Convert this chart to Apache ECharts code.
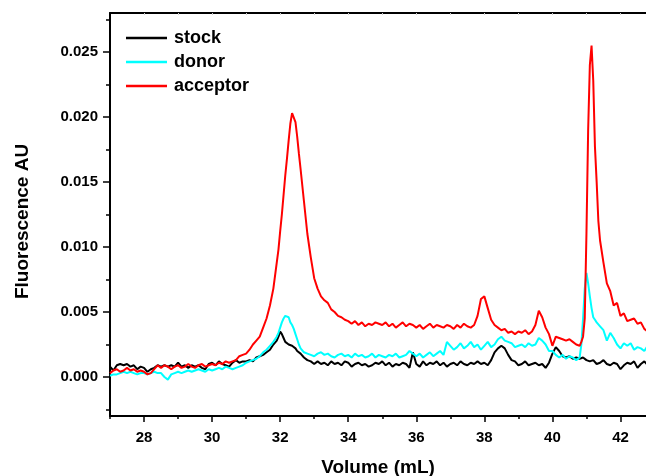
<!DOCTYPE html>
<html>
<head>
<meta charset="utf-8">
<script src="https://cdn.jsdelivr.net/npm/echarts@6/dist/echarts.min.js"></script>
<style>html,body{margin:0;padding:0;background:#fff}#c{width:646px;height:476px}</style>
</head>
<body>
<div id="c"></div>
<script>
// Elution volume (mL)
const volume = [
27.0,27.1,27.2,27.3,27.4,27.5,27.6,27.7,27.8,27.9,
28.0,28.1,28.2,28.3,28.4,28.5,28.6,28.7,28.8,28.9,
29.0,29.1,29.2,29.3,29.4,29.5,29.6,29.7,29.8,29.9,
30.0,30.1,30.2,30.3,30.4,30.5,30.6,30.7,30.8,30.9,
31.0,31.1,31.2,31.3,31.4,31.5,31.6,31.7,31.8,31.9,31.95,
32.0,32.05,32.1,32.15,32.2,32.25,32.3,32.35,32.4,32.45,32.5,32.55,32.6,32.7,32.8,32.9,
33.0,33.1,33.2,33.3,33.4,33.5,33.6,33.7,33.8,33.9,
34.0,34.1,34.2,34.3,34.4,34.5,34.6,34.7,34.8,34.9,
35.0,35.1,35.2,35.3,35.4,35.5,35.6,35.7,35.8,35.9,
36.0,36.1,36.2,36.3,36.4,36.5,36.6,36.7,36.8,36.9,
37.0,37.1,37.2,37.3,37.4,37.5,37.6,37.7,37.8,37.9,
38.0,38.1,38.2,38.3,38.4,38.5,38.6,38.7,38.8,38.9,
39.0,39.1,39.2,39.3,39.4,39.5,39.6,39.7,39.8,39.9,
40.0,40.1,40.2,40.3,40.4,40.5,40.6,40.7,40.8,40.85,40.9,40.95,
41.0,41.05,41.1,41.15,41.2,41.25,41.3,41.35,41.4,41.5,41.6,41.7,41.8,41.9,
42.0,42.1,42.2,42.3,42.4,42.5,42.6,42.7,42.8
];
const stock = [
0.0008,0.0005,0.0009,0.0010,0.0009,0.0010,0.0008,0.0009,0.0006,0.0008,
0.0007,0.0004,0.0006,0.0007,0.0009,0.0008,0.0009,0.0008,0.0009,0.0008,
0.0011,0.0008,0.0009,0.0007,0.0009,0.0008,0.0009,0.0007,0.0006,0.0010,
0.0011,0.0009,0.0012,0.0010,0.0009,0.0008,0.0011,0.0013,0.0011,0.0012,
0.0012,0.0013,0.0012,0.0015,0.0016,0.0017,0.0019,0.0021,0.0025,0.0028,0.0031,
0.0035,0.0033,0.0030,0.0027,0.0026,0.0025,0.0025,0.0024,0.0024,0.0022,0.0020,0.0019,0.0018,0.0015,0.0013,0.0012,
0.0010,0.0012,0.0010,0.0011,0.0009,0.0012,0.0010,0.0011,0.0009,0.0012,
0.0011,0.0008,0.0010,0.0011,0.0009,0.0010,0.0008,0.0009,0.0011,0.0010,
0.0012,0.0009,0.0011,0.0008,0.0010,0.0009,0.0011,0.0010,0.0007,0.0019,
0.0010,0.0008,0.0012,0.0009,0.0011,0.0010,0.0012,0.0009,0.0011,0.0008,
0.0010,0.0011,0.0009,0.0012,0.0010,0.0009,0.0011,0.0010,0.0012,0.0010,
0.0011,0.0009,0.0013,0.0019,0.0022,0.0024,0.0022,0.0017,0.0013,0.0012,
0.0009,0.0010,0.0012,0.0009,0.0010,0.0011,0.0009,0.0010,0.0007,0.0011,
0.0018,0.0023,0.0020,0.0016,0.0015,0.0016,0.0014,0.0015,0.0014,0.0015,0.0015,0.0014,
0.0013,0.0012,0.0012,0.0011,0.0013,0.0012,0.0010,0.0011,0.0011,0.0013,0.0010,0.0009,0.0011,0.0010,
0.0006,0.0009,0.0011,0.0010,0.0012,0.0007,0.0010,0.0012,0.0009
];
const donor = [
0.0001,0.0002,0.0002,0.0003,0.0004,0.0003,0.0004,0.0003,0.0002,0.0003,
0.0003,0.0002,0.0003,0.0004,0.0003,0.0003,0.0000,-0.0002,0.0002,0.0003,
0.0004,0.0003,0.0004,0.0005,0.0004,0.0005,0.0006,0.0005,0.0004,0.0006,
0.0005,0.0006,0.0007,0.0006,0.0008,0.0007,0.0006,0.0007,0.0008,0.0009,
0.0011,0.0012,0.0013,0.0014,0.0016,0.0019,0.0021,0.0024,0.0027,0.0031,0.0034,
0.0038,0.0042,0.0045,0.0047,0.0048,0.0046,0.0042,0.0040,0.0037,0.0033,0.0029,0.0025,0.0022,0.0019,0.0018,0.0017,
0.0016,0.0018,0.0019,0.0017,0.0018,0.0016,0.0015,0.0017,0.0018,0.0016,
0.0017,0.0015,0.0018,0.0016,0.0017,0.0015,0.0016,0.0018,0.0015,0.0017,
0.0016,0.0015,0.0017,0.0016,0.0018,0.0015,0.0016,0.0017,0.0020,0.0018,
0.0016,0.0018,0.0015,0.0017,0.0019,0.0016,0.0018,0.0020,0.0017,0.0027,
0.0024,0.0021,0.0023,0.0026,0.0022,0.0024,0.0027,0.0023,0.0025,0.0021,
0.0024,0.0027,0.0023,0.0025,0.0029,0.0031,0.0028,0.0027,0.0026,0.0023,
0.0024,0.0025,0.0023,0.0026,0.0024,0.0025,0.0030,0.0028,0.0025,0.0020,
0.0020,0.0017,0.0015,0.0017,0.0014,0.0016,0.0015,0.0013,0.0015,0.0025,0.0045,0.0068,
0.0080,0.0072,0.0062,0.0053,0.0046,0.0044,0.0042,0.0041,0.0039,0.0036,0.0028,0.0034,0.0030,0.0025,
0.0022,0.0026,0.0024,0.0026,0.0021,0.0023,0.0022,0.0020,0.0024
];
const acceptor = [
0.0003,0.0005,0.0006,0.0004,0.0005,0.0007,0.0005,0.0006,0.0004,0.0005,
0.0004,0.0002,0.0003,0.0006,0.0009,0.0007,0.0009,0.0008,0.0006,0.0008,
0.0009,0.0007,0.0008,0.0010,0.0008,0.0007,0.0009,0.0010,0.0008,0.0009,
0.0010,0.0009,0.0011,0.0010,0.0012,0.0011,0.0012,0.0013,0.0016,0.0017,
0.0018,0.0021,0.0025,0.0028,0.0031,0.0038,0.0045,0.0055,0.0068,0.0088,0.0098,
0.0112,0.0125,0.0140,0.0155,0.0168,0.0182,0.0195,0.0203,0.0204,0.0196,0.0185,0.0172,0.0160,0.0135,0.0110,0.0092,
0.0076,0.0068,0.0062,0.0059,0.0057,0.0052,0.0050,0.0047,0.0046,0.0044,
0.0043,0.0041,0.0043,0.0040,0.0042,0.0039,0.0041,0.0040,0.0042,0.0041,
0.0040,0.0042,0.0039,0.0041,0.0038,0.0040,0.0042,0.0039,0.0041,0.0040,
0.0038,0.0040,0.0037,0.0039,0.0041,0.0038,0.0040,0.0039,0.0038,0.0040,
0.0039,0.0037,0.0040,0.0038,0.0041,0.0039,0.0038,0.0040,0.0047,0.0060,
0.0062,0.0053,0.0044,0.0040,0.0038,0.0036,0.0037,0.0034,0.0035,0.0033,
0.0035,0.0034,0.0036,0.0033,0.0035,0.0040,0.0051,0.0046,0.0038,0.0033,
0.0024,0.0031,0.0030,0.0029,0.0028,0.0029,0.0027,0.0025,0.0024,0.0027,0.0031,0.0045,
0.0110,0.0190,0.0240,0.0255,0.0228,0.0177,0.0150,0.0120,0.0105,0.0088,0.0072,0.0066,0.0055,0.0057,
0.0047,0.0049,0.0043,0.0044,0.0045,0.0041,0.0042,0.0037,0.0035
];
const seriesNames = ['stock', 'donor', 'acceptor'];
const xMajorTicks = [28, 30, 32, 34, 36, 38, 40, 42];
const xMinorTicks = [27, 29, 31, 33, 35, 37, 39, 41];
const xTopTicks = [28, 29, 30, 31, 32, 33, 34, 35, 36, 37, 38, 39, 40, 41, 42];
const yMajorTicks = [0, 0.005, 0.010, 0.015, 0.020, 0.025];
const yMinorTicks = [-0.0025, 0.0025, 0.0075, 0.0125, 0.0175, 0.0225, 0.0275];

const FONT = '"Liberation Sans", Arial, Helvetica, sans-serif';
const X_MIN = 27, X_MAX = 42.75, Y_MIN = -0.003, Y_MAX = 0.028;
const gridBox = { left: 110, right: 0, top: 13, bottom: 60, outerBoundsMode: 'none', containLabel: false };
const colors = ['#000000', '#00ffff', '#ff0000'];
const values = [stock, donor, acceptor];

const chart = echarts.init(document.getElementById('c'), null, { renderer: 'canvas' });
chart.setOption({
  animation: false,
  backgroundColor: '#ffffff',
  grid: [Object.assign({}, gridBox), Object.assign({}, gridBox)],
  legend: {
    orient: 'vertical', left: 126, top: 26, itemGap: 0, padding: 0,
    itemWidth: 41, itemHeight: 2.5, icon: 'rect',
    data: seriesNames,
    textStyle: { fontFamily: FONT, fontSize: 18, fontWeight: 'bold', color: '#000', lineHeight: 24, padding: [0, 0, 0, 2] }
  },
  xAxis: [
    {
      type: 'value', gridIndex: 0, position: 'bottom', min: X_MIN, max: X_MAX,
      name: 'Volume (mL)', nameLocation: 'middle', nameGap: 42,
      nameTextStyle: { fontFamily: FONT, fontSize: 19, fontWeight: 'bold', color: '#000' },
      axisLine: { show: true, onZero: false, lineStyle: { color: '#000', width: 2 } },
      axisTick: { show: true, inside: false, length: 6, customValues: xMajorTicks, lineStyle: { color: '#000', width: 1.5 } },
      axisLabel: { show: true, customValues: xMajorTicks, margin: 14, fontFamily: FONT, fontSize: 15, fontWeight: 'bold', color: '#000' },
      splitLine: { show: false }
    },
    {
      type: 'value', gridIndex: 0, position: 'top', min: X_MIN, max: X_MAX,
      axisLine: { show: true, onZero: false, lineStyle: { color: '#000', width: 2 } },
      axisTick: { show: true, inside: true, length: 2, customValues: xTopTicks, lineStyle: { color: '#cccccc', width: 1 } },
      axisLabel: { show: false },
      splitLine: { show: false }
    },
    {
      type: 'value', gridIndex: 1, position: 'bottom', min: X_MIN, max: X_MAX,
      axisLine: { show: false, onZero: false },
      axisTick: { show: true, inside: false, length: 3, customValues: xMinorTicks, lineStyle: { color: '#000', width: 1.5 } },
      axisLabel: { show: false },
      splitLine: { show: false }
    }
  ],
  yAxis: [
    {
      type: 'value', gridIndex: 0, position: 'left', min: Y_MIN, max: Y_MAX,
      name: 'Fluorescence AU', nameLocation: 'middle', nameGap: 78, nameRotate: 90,
      nameTextStyle: { fontFamily: FONT, fontSize: 19, fontWeight: 'bold', color: '#000', padding: [0, 14, 0, 0] },
      axisLine: { show: true, onZero: false, lineStyle: { color: '#000', width: 2 } },
      axisTick: { show: true, inside: false, length: 7, customValues: yMajorTicks, lineStyle: { color: '#000', width: 1.5 } },
      axisLabel: { show: true, customValues: yMajorTicks, margin: 12, fontFamily: FONT, fontSize: 15, fontWeight: 'bold', color: '#000',
        formatter: v => v.toFixed(3) },
      splitLine: { show: false }
    },
    {
      type: 'value', gridIndex: 1, position: 'left', min: Y_MIN, max: Y_MAX,
      axisLine: { show: false, onZero: false },
      axisTick: { show: true, inside: false, length: 4, customValues: yMinorTicks, lineStyle: { color: '#000', width: 1.5 } },
      axisLabel: { show: false },
      splitLine: { show: false }
    }
  ],
  series: seriesNames.map((name, k) => ({
    name: name,
    type: 'line',
    xAxisIndex: 0, yAxisIndex: 0,
    showSymbol: false, symbol: 'none',
    clip: true,
    color: colors[k],
    lineStyle: { color: colors[k], width: 2 },
    itemStyle: { color: colors[k] },
    z: 2 + k,
    data: volume.map((v, i) => [v, values[k][i]])
  }))
});
</script>
</body>
</html>
